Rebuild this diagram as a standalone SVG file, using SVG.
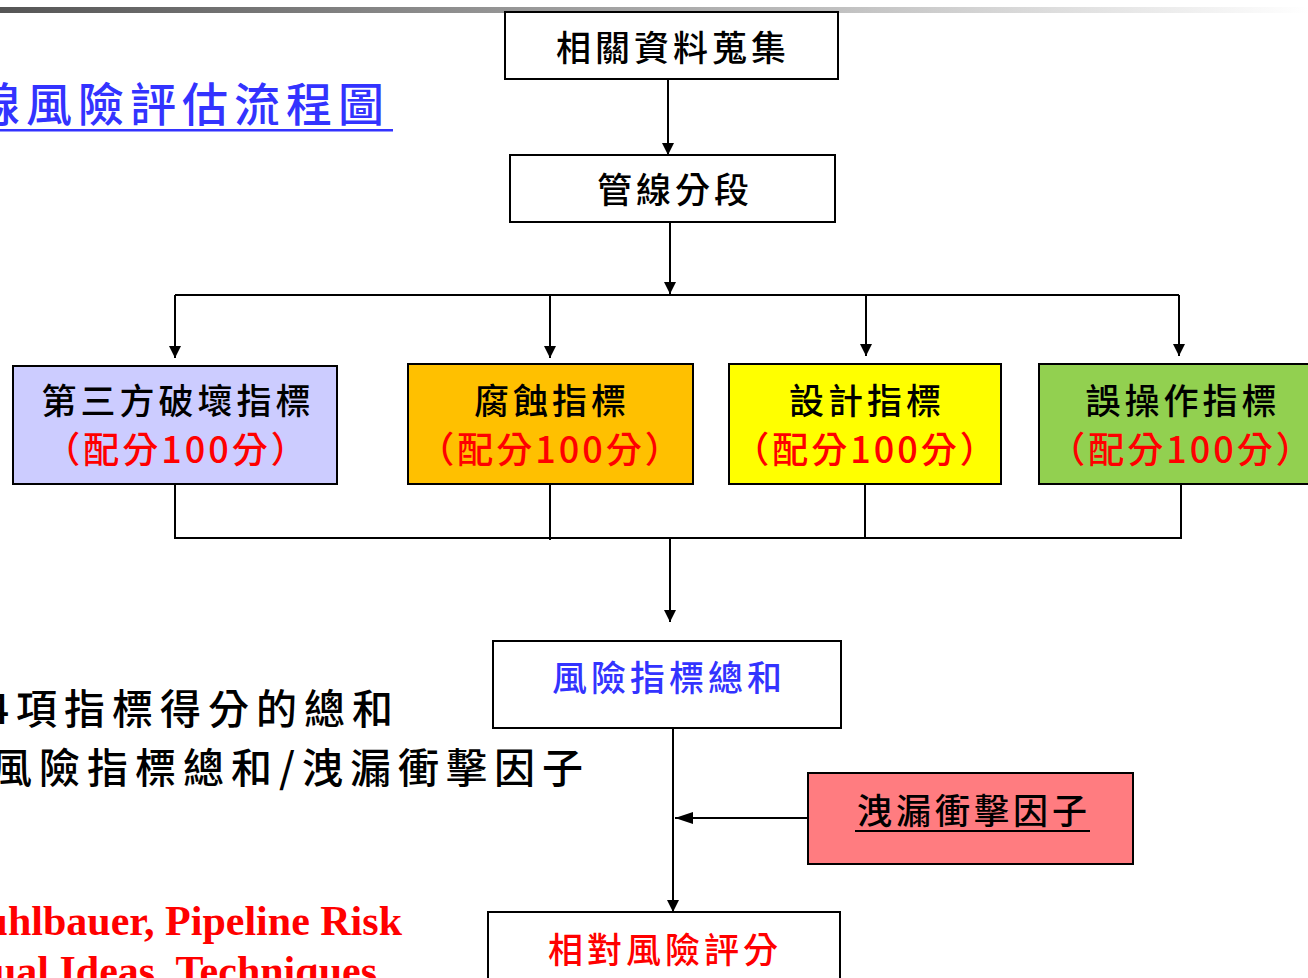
<svg xmlns="http://www.w3.org/2000/svg" width="1308" height="978" viewBox="0 0 1308 978">
<defs>
<linearGradient id="bar" x1="0" y1="0" x2="1" y2="0">
<stop offset="0" stop-color="#555555"/>
<stop offset="0.5" stop-color="#a8a8a8"/>
<stop offset="1" stop-color="#ffffff"/>
</linearGradient>
<marker id="arr" viewBox="0 0 12 18" refX="12" refY="9" markerWidth="12" markerHeight="18" markerUnits="userSpaceOnUse" orient="auto">
<path d="M0,3 L12,9 L0,15 Z" fill="#000"/>
</marker>
<marker id="arrv" viewBox="0 0 18 12" refX="18" refY="6" markerWidth="18" markerHeight="12" markerUnits="userSpaceOnUse" orient="auto">
<path d="M0,0 L18,6 L0,12 Z" fill="#000"/>
</marker>
</defs>
<style>
.box{stroke:#000;stroke-width:2}
.cjk{font-family:"Noto Sans CJK TC","Noto Sans CJK SC",sans-serif;font-weight:500}
.t{font-size:35px;letter-spacing:4px;text-anchor:middle;fill:#000}
.r{font-size:36px;letter-spacing:3px;text-anchor:middle;fill:#ff0000}
.ln{stroke:#000;stroke-width:2;fill:none}
.lg{font-size:41px;text-anchor:end;fill:#000}
.ref{font-family:"Liberation Serif",serif;font-weight:bold;font-size:42px;fill:#ff0000;text-anchor:end}
</style>
<rect width="1308" height="978" fill="#fff"/>
<rect x="0" y="7" width="1308" height="6" fill="url(#bar)"/>

<g id="title">
<text class="cjk" x="390" y="121" font-size="46" letter-spacing="6" text-anchor="end" fill="#3333ff">線風險評估流程圖</text>
<rect x="0" y="129" width="393" height="2.5" fill="#3333ff"/>
</g>

<g id="notes">
<text class="cjk lg" x="400" y="724" letter-spacing="7">4項指標得分的總和</text>
<text class="cjk lg" x="590" y="783" letter-spacing="7">風險指標總和/洩漏衝擊因子</text>
<text class="ref" x="402" y="935">uhlbauer, Pipeline Risk</text>
<text class="ref" x="377" y="985">ual Ideas, Techniques</text>
</g>

<g id="connectors">
<line class="ln" x1="668" y1="79" x2="668" y2="155" marker-end="url(#arr)"/>
<line class="ln" x1="670" y1="222" x2="670" y2="294" marker-end="url(#arr)"/>
<line class="ln" x1="175" y1="295" x2="1179" y2="295"/>
<line class="ln" x1="175" y1="295" x2="175" y2="358" marker-end="url(#arr)"/>
<line class="ln" x1="550" y1="295" x2="550" y2="358" marker-end="url(#arr)"/>
<line class="ln" x1="866" y1="295" x2="866" y2="356" marker-end="url(#arr)"/>
<line class="ln" x1="1179" y1="295" x2="1179" y2="356" marker-end="url(#arr)"/>
<line class="ln" x1="175" y1="484" x2="175" y2="538"/>
<line class="ln" x1="550" y1="484" x2="550" y2="540"/>
<line class="ln" x1="865" y1="484" x2="865" y2="538"/>
<line class="ln" x1="1181" y1="484" x2="1181" y2="538"/>
<line class="ln" x1="174" y1="538" x2="1182" y2="538"/>
<line class="ln" x1="670" y1="538" x2="670" y2="622" marker-end="url(#arr)"/>
<line class="ln" x1="673" y1="728" x2="673" y2="912" marker-end="url(#arr)"/>
<line class="ln" x1="808" y1="818" x2="675" y2="818" marker-end="url(#arrv)"/>
</g>

<g id="n1">
<rect class="box" x="505" y="12" width="333" height="67" fill="#fff"/>
<text class="cjk t" x="673" y="61">相關資料蒐集</text>
</g>
<g id="n2">
<rect class="box" x="510" y="155" width="325" height="67" fill="#fff"/>
<text class="cjk t" x="675" y="203">管線分段</text>
</g>
<g id="nA">
<rect class="box" x="13" y="366" width="324" height="118" fill="#ccccff"/>
<text class="cjk t" x="178" y="414">第三方破壞指標</text>
<text class="cjk r" x="177" y="463">（配分100分）</text>
</g>
<g id="nB">
<rect class="box" x="408" y="364" width="285" height="120" fill="#ffc000"/>
<text class="cjk t" x="552" y="414">腐蝕指標</text>
<text class="cjk r" x="551" y="463">（配分100分）</text>
</g>
<g id="nC">
<rect class="box" x="729" y="364" width="272" height="120" fill="#ffff00"/>
<text class="cjk t" x="867" y="414">設計指標</text>
<text class="cjk r" x="866" y="463">（配分100分）</text>
</g>
<g id="nD">
<rect class="box" x="1039" y="364" width="290" height="120" fill="#92d050"/>
<text class="cjk t" x="1183" y="414">誤操作指標</text>
<text class="cjk r" x="1182" y="463">（配分100分）</text>
</g>
<g id="nSum">
<rect class="box" x="493" y="641" width="348" height="87" fill="#fff"/>
<text class="cjk t" x="669" y="691" style="fill:#3333ff">風險指標總和</text>
</g>
<g id="nLeak">
<rect class="box" x="808" y="773" width="325" height="91" fill="#ff7c80"/>
<text class="cjk t" x="974" y="824">洩漏衝擊因子</text>
<rect x="855" y="830" width="235" height="2" fill="#000"/>
</g>
<g id="nRel">
<rect class="box" x="488" y="912" width="352" height="80" fill="#fff"/>
<text class="cjk t" x="665" y="963" style="fill:#ff0000">相對風險評分</text>
</g>
</svg>
